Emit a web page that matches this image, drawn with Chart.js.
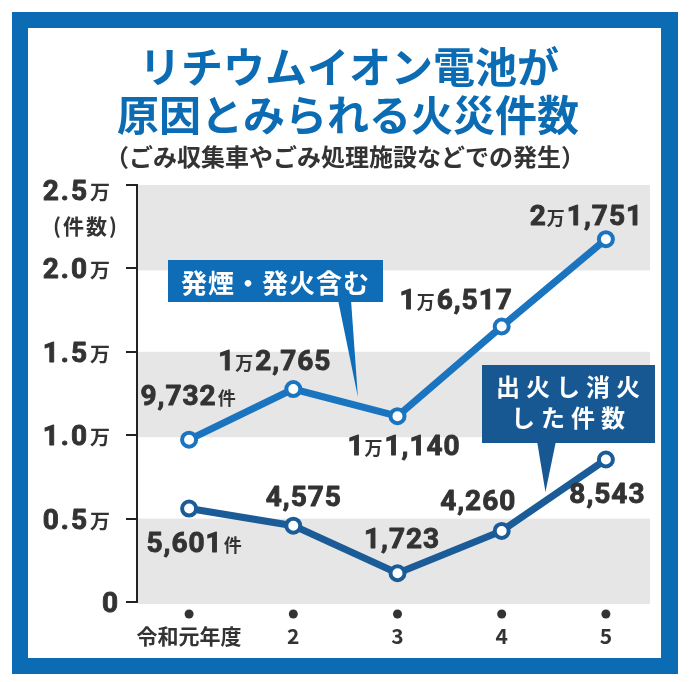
<!DOCTYPE html>
<html><head><meta charset="utf-8">
<script src="https://cdn.jsdelivr.net/npm/chart.js@4"></script>
<style>html,body{margin:0;padding:0;background:#fff}#wrap{width:693px;height:682px;position:relative}</style>
</head><body><div id="wrap"><canvas id="c"></canvas></div>
<script>
// ---- data ----
const categories = ['令和元年度','2','3','4','5'];
const smokeFireCounts = [9732, 12765, 11140, 16517, 21751];   // 発煙・発火含む
const extinguishedCounts = [5601, 4575, 1723, 4260, 8543];    // 出火し消火した件数
const yTickValues = [0, 5000, 10000, 15000, 20000, 25000];
const yTickLabels = ['0','0.5','1.0','1.5','2.0','2.5'];
const yUnit = '万';
const yAxisTitle = '(件数)';
const titleLines = ['リチウムイオン電池が','原因とみられる火災件数'];
const subtitle = '（ごみ収集車やごみ処理施設などでの発生）';
const seriesNameA = ['発煙・発火含む'];
const seriesNameB = ['出火し消火','した件数'];
const countSuffix = '件';

// ---- style ----
const FRAME = '#0b6cb4', TITLE = '#0b6cb4';
const LINE1 = '#1a74bf', LINE2 = '#1b5c98';
const BOX1 = '#0e6db6', BOX2 = '#175893';
const TXT = '#333333', BAND = '#e6e6e6';
const CJK = '"Noto Sans CJK JP"';
const NUM = 'bold 28px Roboto', SMALL = 'bold 18px ' + CJK;
const labelOffsets = [
  [[-1,-45],[-19,-29],[6,29],[-46,-27],[-20,-24]],
  [[5,33],[10,-30],[4,-35],[-24,-31],[1,33]]
];

function layoutRuns(ctx, runs){
  const items=[]; let w=0, first=true;
  for(const r of runs){
    ctx.font=r.font;
    [...r.text].forEach((ch,i)=>{
      if(!first) w += (i===0 ? (r.gap||0) : (r.sp||0));
      items.push({ch, font:r.font, x:w, stroke:r.stroke||0});
      w += ctx.measureText(ch).width;
      first=false;
    });
  }
  return {items,w};
}
function drawRuns(ctx, runs, x, y, align, color){
  const {items,w}=layoutRuns(ctx,runs);
  const x0 = align==='center' ? x-w/2 : align==='right' ? x-w : x;
  ctx.textAlign='left'; ctx.textBaseline='alphabetic';
  for(const it of items){
    ctx.font=it.font; ctx.fillStyle=color; ctx.fillText(it.ch, x0+it.x, y);
    if(it.stroke){ ctx.strokeStyle=color; ctx.lineWidth=it.stroke; ctx.lineJoin='round'; ctx.strokeText(it.ch, x0+it.x, y); }
  }
}
function valueRuns(v, idx){
  const runs=[];
  if(v>=10000){
    runs.push({text:String(Math.floor(v/10000)), font:NUM, sp:1, stroke:0.9});
    runs.push({text:'万', font:SMALL, gap:1});
    runs.push({text:(v%10000).toLocaleString('en-US'), font:NUM, sp:1, gap:2, stroke:0.9});
  } else runs.push({text:v.toLocaleString('en-US'), font:NUM, sp:1, stroke:0.9});
  if(idx===0) runs.push({text:countSuffix, font:SMALL, gap:2});
  return runs;
}

const decor = {
  id:'decor',
  beforeDraw(chart){
    const ctx=chart.ctx; ctx.save();
    ctx.fillStyle='#fff'; ctx.fillRect(0,0,chart.width,chart.height);
    ctx.fillStyle=FRAME; ctx.fillRect(12,12,666,662);
    ctx.fillStyle='#fff'; ctx.fillRect(28,28,633,630);
    ctx.textAlign='center'; ctx.textBaseline='alphabetic';
    ctx.fillStyle=TITLE; ctx.font='bold 42px '+CJK;
    ctx.fillText(titleLines[0], 349, 83);
    ctx.fillText(titleLines[1], 348, 131);
    ctx.fillStyle=TXT; ctx.font='bold 24px '+CJK;
    ctx.fillText(subtitle, 345, 166);
    ctx.restore();
  },
  beforeDatasetsDraw(chart){
    const ctx=chart.ctx, ys=chart.scales.y, a=chart.chartArea;
    ctx.save(); ctx.fillStyle=BAND;
    for(let i=0;i+1<yTickValues.length;i+=2){
      const top=ys.getPixelForValue(yTickValues[i+1]), bot=ys.getPixelForValue(yTickValues[i]);
      ctx.fillRect(a.left+1, top, a.right-8-(a.left+1), bot-top+2);
    }
    ctx.restore();
  },
  afterDatasetsDraw(chart){
    const ctx=chart.ctx; ctx.save();
    [smokeFireCounts, extinguishedCounts].forEach((arr,di)=>{
      const meta=chart.getDatasetMeta(di);
      arr.forEach((v,i)=>{
        const p=meta.data[i]; const [dx,dy]=labelOffsets[di][i];
        drawRuns(ctx, valueRuns(v,i), p.x+dx, p.y+dy+10, 'center', TXT);
      });
    });
    const m0=chart.getDatasetMeta(0).data, m1=chart.getDatasetMeta(1).data;
    const tA={x:m0[1].x+(m0[2].x-m0[1].x)*0.62, y:m0[1].y+(m0[2].y-m0[1].y)*0.62-9};
    ctx.fillStyle=BOX1;
    ctx.fillRect(168,260,215,42);
    ctx.beginPath(); ctx.moveTo(338,300); ctx.lineTo(351,300); ctx.lineTo(tA.x,tA.y); ctx.closePath(); ctx.fill();
    drawRuns(ctx,[{text:seriesNameA[0], font:'bold 26px '+CJK, sp:1}], 275, 293, 'center', '#fff');
    const tB={x:m1[3].x+(m1[4].x-m1[3].x)*0.42, y:m1[3].y+(m1[4].y-m1[3].y)*0.42-9};
    ctx.fillStyle=BOX2;
    ctx.fillRect(482,365,173,78);
    ctx.beginPath(); ctx.moveTo(537,441); ctx.lineTo(556,441); ctx.lineTo(tB.x,tB.y); ctx.closePath(); ctx.fill();
    drawRuns(ctx,[{text:seriesNameB[0], font:'bold 24px '+CJK, sp:6}], 568, 396, 'center', '#fff');
    drawRuns(ctx,[{text:seriesNameB[1], font:'bold 24px '+CJK, sp:6}], 568, 427, 'center', '#fff');
    ctx.restore();
  },
  afterDraw(chart){
    const ctx=chart.ctx, ys=chart.scales.y, xs=chart.scales.x; ctx.save();
    yTickValues.forEach((v,i)=>{
      const py=ys.getPixelForValue(v)+(i===yTickValues.length-1?5:0);
      const base=py+10;
      if(v===0){ drawRuns(ctx,[{text:yTickLabels[i],font:'bold 28px Roboto',stroke:0.9}],118,base,'right',TXT); }
      else {
        drawRuns(ctx,[{text:yTickLabels[i],font:'bold 28px Roboto',sp:2,stroke:0.9}],87,base,'right',TXT);
        drawRuns(ctx,[{text:yUnit,font:'bold 20px '+CJK}],90,base,'left',TXT);
      }
    });
    drawRuns(ctx,[{text:yAxisTitle,font:'bold 21px '+CJK, sp:2}],117,234,'right',TXT);
    categories.forEach((c,i)=>{
      const px=xs.getPixelForValue(i);
      ctx.fillStyle=TXT; ctx.beginPath(); ctx.arc(px,614,4.5,0,Math.PI*2); ctx.fill();
      drawRuns(ctx,[{text:c,font:'bold 21px '+CJK}],px,644,'center',TXT);
    });
    ctx.restore();
  }
};

new Chart(document.getElementById('c'), {
  type:'line',
  data:{ labels:categories, datasets:[
    {data:smokeFireCounts, borderColor:LINE1, borderWidth:7, pointRadius:7, pointBorderWidth:4, pointBackgroundColor:'#fff', pointBorderColor:LINE1, tension:0},
    {data:extinguishedCounts, borderColor:LINE2, borderWidth:7, pointRadius:7, pointBorderWidth:4, pointBackgroundColor:'#fff', pointBorderColor:LINE2, tension:0}
  ]},
  options:{
    responsive:true, maintainAspectRatio:false, animation:false, events:[],
    layout:{padding:{top:185,right:35,bottom:0,left:0}},
    plugins:{legend:{display:false}, tooltip:{enabled:false}},
    scales:{
      x:{type:'category', offset:true, grid:{display:false}, border:{display:false}, ticks:{display:false}, afterFit:s=>{s.height=80;}},
      y:{min:0, max:25000, ticks:{stepSize:5000, display:false},
         grid:{drawOnChartArea:false, drawTicks:true, tickLength:11, color:'#222', lineWidth:2},
         border:{display:true, color:'#222', width:2}, afterFit:s=>{s.width=137;}}
    }
  },
  plugins:[decor]
});
</script></body></html>
